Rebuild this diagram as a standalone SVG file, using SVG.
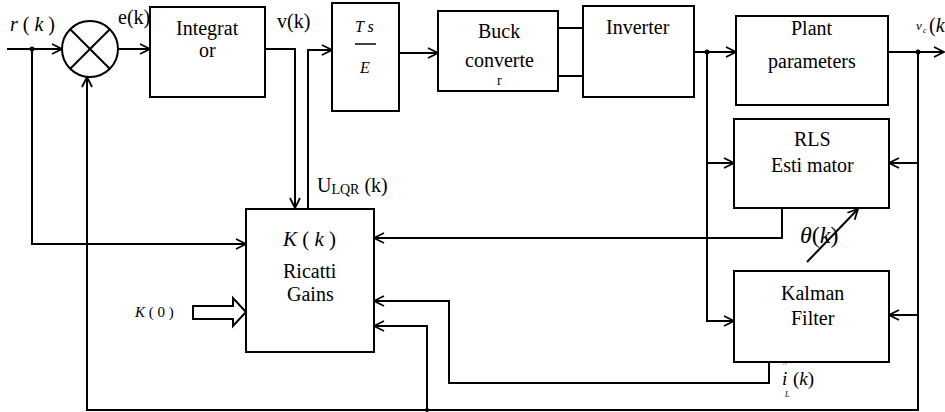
<svg xmlns="http://www.w3.org/2000/svg" width="945" height="412" viewBox="0 0 945 412">
<defs>
<marker id="arr" viewBox="0 0 12 12" refX="11" refY="6" markerWidth="12" markerHeight="12" markerUnits="userSpaceOnUse" orient="auto">
<path d="M1,1 L11,6 L1,11" fill="none" stroke="#000" stroke-width="1.8"/>
</marker>
</defs>
<style>
text{font-family:"Liberation Serif","Times New Roman",serif}
.box{fill:#fff;stroke:#000;stroke-width:2}
.ln{fill:none;stroke:#000;stroke-width:2}
.a{marker-end:url(#arr)}
.it{font-style:italic}
</style>
<rect width="945" height="412" fill="#fff"/>

<g id="sum">
<circle cx="90" cy="49" r="28" class="box"/>
<path d="M70.2,29.2 L109.8,68.8 M109.8,29.2 L70.2,68.8" class="ln"/>
</g>
<g id="integrator">
<rect x="150" y="7" width="115" height="90" class="box"/>
<text x="176" y="35" font-size="20">Integrat</text>
<text x="199" y="57" font-size="20">or</text>
</g>
<g id="tse">
<rect x="332" y="3" width="67" height="108" class="box"/>
<text class="it" x="355" y="32" font-size="16">T s</text>
<line x1="355" y1="44" x2="376" y2="44" stroke="#000" stroke-width="1.5"/>
<text class="it" x="360" y="73" font-size="16">E</text>
</g>
<g id="buck">
<rect x="438" y="11" width="120" height="80" class="box"/>
<text x="478" y="38" font-size="20">Buck</text>
<text x="465" y="67" font-size="20">converte</text>
<text x="497" y="85" font-size="14">r</text>
</g>
<g id="inverter">
<rect x="583" y="6" width="111" height="91" class="box"/>
<text x="606" y="34" font-size="20">Inverter</text>
</g>
<g id="plant">
<rect x="736" y="16" width="152" height="89" class="box"/>
<text x="791" y="35" font-size="20">Plant</text>
<text x="768" y="68" font-size="20">parameters</text>
</g>
<g id="rls">
<rect x="734" y="119" width="155" height="89" class="box"/>
<text x="794" y="146" font-size="20">RLS</text>
<text x="771" y="172" font-size="20">Esti mator</text>
</g>
<g id="kalman">
<rect x="734" y="271" width="155" height="91" class="box"/>
<text x="781" y="300" font-size="20">Kalman</text>
<text x="791" y="325" font-size="20">Filter</text>
</g>
<g id="ricatti">
<rect x="246" y="209" width="128" height="143" class="box"/>
<text x="283" y="246" font-size="21"><tspan class="it">K</tspan> ( <tspan class="it">k</tspan> )</text>
<text x="283" y="278" font-size="20">Ricatti</text>
<text x="287" y="301" font-size="20">Gains</text>
</g>

<g id="connectors">
<path d="M7,49 L62,49" class="ln a"/>
<path d="M118,49 L150,49" class="ln a"/>
<path d="M265,49 L295,49 L295,208" class="ln a"/>
<path d="M308,209 L308,50 L332,50" class="ln a"/>
<path d="M399,53 L438,53" class="ln a"/>
<path d="M558,28 L583,28 M558,76 L583,76" class="ln"/>
<path d="M694,52 L736,52" class="ln a"/>
<path d="M707,52 L707,163 L734,163" class="ln a"/>
<path d="M707,163 L707,321 L734,321" class="ln a"/>
<path d="M888,52 L944,52" class="ln a"/>
<path d="M918,52 L918,410 L87,410 L87,77" class="ln a"/>
<path d="M918,163 L889,163" class="ln a"/>
<path d="M918,315 L889,315" class="ln a"/>
<path d="M32,49 L32,244 L246,244" class="ln a"/>
<path d="M782,208 L782,238 L374,238" class="ln a"/>
<path d="M769,362 L769,383 L449,383 L449,301 L374,301" class="ln a"/>
<path d="M427,410 L427,326 L374,326" class="ln a"/>
<path d="M807,262 L858,209" class="ln a"/>
<polygon points="193,306 233,306 233,298 246,312 233,326 233,319 193,319" fill="#fff" stroke="#000" stroke-width="2"/>
<circle cx="32" cy="49" r="2.5" fill="#000"/>
<circle cx="707" cy="52" r="2.5" fill="#000"/>
<circle cx="918" cy="52" r="2.5" fill="#000"/>
<circle cx="427" cy="410" r="2" fill="#000"/>
</g>

<g id="labels">
<text x="10" y="31" font-size="20"><tspan class="it">r</tspan> ( <tspan class="it">k</tspan> )</text>
<text x="118" y="24" font-size="20">e(k)</text>
<text x="277" y="28" font-size="20">v(k)</text>
<text x="317" y="192" font-size="20">U<tspan font-size="14" dy="2">LQR</tspan><tspan dy="-2"> (k)</tspan></text>
<text x="135" y="317" font-size="15"><tspan class="it">K</tspan> ( 0 )</text>
<text x="800" y="243" font-size="24"><tspan class="it">θ</tspan>(<tspan class="it">k</tspan>)</text>
<text x="782" y="385" font-size="19" class="it">i</text>
<text x="783" y="367" font-size="8">^</text>
<text x="785" y="397" font-size="8" class="it">L</text>
<text x="793" y="385" font-size="19">(<tspan class="it">k</tspan>)</text>
<text x="916" y="30" font-size="13" class="it">v</text>
<text x="923" y="33" font-size="8" class="it">c</text>
<text x="929" y="32" font-size="20">(<tspan class="it">k</tspan></text>
</g>
</svg>
